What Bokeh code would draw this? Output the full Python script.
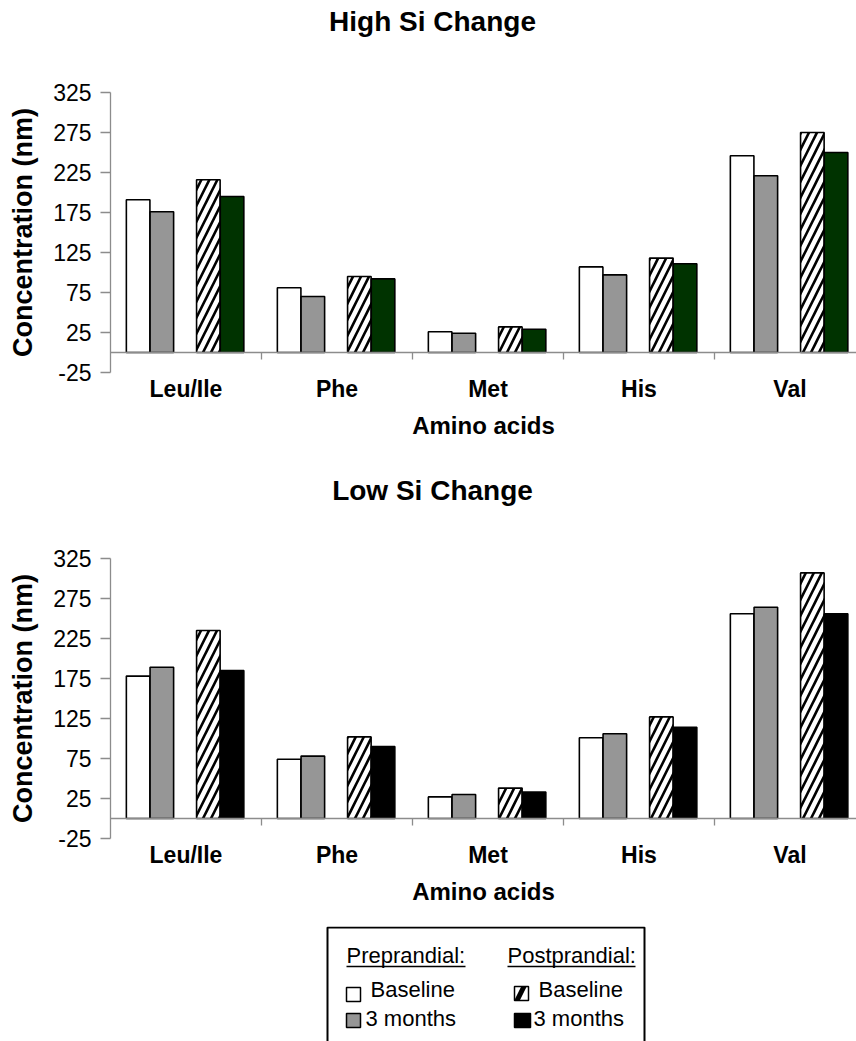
import numpy as np
from bokeh.plotting import figure
from bokeh.models import Range1d, LinearAxis, FixedTicker, Span
from bokeh.layouts import column
from bokeh.embed import file_html
from bokeh.resources import INLINE
from bokeh.core.properties import value

# ---------------- data ----------------
amino_acids = ["Leu/Ile", "Phe", "Met", "His", "Val"]
y_ticks = [-25, 25, 75, 125, 175, 225, 275, 325]
chart_titles = ["High Si Change", "Low Si Change"]

high_pre_baseline = [191, 81, 26, 107, 246]
high_pre_3months = [176, 70, 24, 97, 221]
high_post_baseline = [216, 95, 32, 118, 275]
high_post_3months = [195, 92, 29, 111, 250]

low_pre_baseline = [178, 74, 27, 101, 256]
low_pre_3months = [189, 78, 30, 106, 264]
low_post_baseline = [235, 102, 38, 127, 307]
low_post_3months = [185, 90, 33, 114, 256]

group_labels = ["Preprandial:", "Postprandial:"]
item_labels = ["Baseline", "3 months"]

# ---------------- styling ----------------
FONT = "Liberation Sans"
AXIS_GRAY = "#8c8c8c"
GRAY_FILL = "#969696"
GREEN_FILL = "#003300"
BLACK_FILL = "#000000"
W = 856
LEFT = 110
CAT_PX = 151.0
FRAME_W = W - LEFT
FRAME_H = 280
Y0, Y1 = -25, 325
OFFSETS = [0.183, 0.34, 0.648, 0.805]
BAR_W = 0.156


def blank_fig(height):
    f = figure(width=W, height=height, x_range=Range1d(LEFT, W),
               y_range=Range1d(height, 0), output_backend="svg",
               toolbar_location=None, title=None,
               min_border_left=LEFT, min_border_right=0, min_border_top=0,
               min_border_bottom=0, x_axis_location=None, y_axis_location=None,
               outline_line_color=None)
    f.grid.visible = False
    return f


def title_fig(text, height, center_y):
    f = blank_fig(height)
    f.text(x=[432], y=[center_y], text=[text], text_font=value(FONT),
           text_font_size="28px", text_font_style="bold", text_align="center",
           text_baseline="middle", text_color="black")
    return f


def make_chart(pre_b, pre_3, post_b, post_3, post3_color, height, border_bottom):
    n = len(amino_acids)
    p = figure(width=W, height=height,
               x_range=Range1d(0, FRAME_W / CAT_PX), y_range=Range1d(Y0, Y1),
               output_backend="svg", toolbar_location=None, title=None,
               x_axis_location=None, y_axis_location=None,
               min_border_left=LEFT, min_border_right=0,
               min_border_top=32, min_border_bottom=border_bottom,
               outline_line_color=None, background_fill_color="white",
               border_fill_color="white")
    p.grid.visible = False

    idx = np.arange(n)
    common = dict(width=BAR_W, line_color="black", line_width=1.6)
    p.vbar(x=idx + OFFSETS[0], top=pre_b, bottom=0, fill_color="white", **common)
    p.vbar(x=idx + OFFSETS[1], top=pre_3, bottom=0, fill_color=GRAY_FILL, **common)
    p.vbar(x=idx + OFFSETS[2], top=post_b, bottom=0, fill_color="white",
           hatch_pattern="/", hatch_color="black", hatch_weight=2.6,
           hatch_scale=16, **common)
    p.vbar(x=idx + OFFSETS[3], top=post_3, bottom=0, fill_color=post3_color, **common)

    # y axis
    yax = LinearAxis(ticker=FixedTicker(ticks=y_ticks),
                     major_label_overrides={t: str(t) for t in y_ticks},
                     axis_label="Concentration (nm)",
                     axis_label_text_font=FONT, axis_label_text_font_size="27px",
                     axis_label_text_font_style="bold", axis_label_text_color="black",
                     axis_label_standoff=12,
                     major_label_text_font=FONT, major_label_text_font_size="23px",
                     major_label_text_color="black", major_label_standoff=9,
                     axis_line_color=AXIS_GRAY, axis_line_width=1.3,
                     major_tick_line_color=AXIS_GRAY, major_tick_line_width=1.3,
                     major_tick_out=10, major_tick_in=0,
                     minor_tick_line_color=None)
    p.add_layout(yax, "left")

    # category labels below the frame
    overrides = {i + 0.5: name for i, name in enumerate(amino_acids)}
    xlab = LinearAxis(ticker=FixedTicker(ticks=[i + 0.5 for i in range(n)]),
                      major_label_overrides=overrides,
                      axis_line_color=None, major_tick_line_color=None,
                      minor_tick_line_color=None, major_tick_out=0, major_tick_in=0,
                      major_label_text_font=FONT, major_label_text_font_size="23px",
                      major_label_text_font_style="bold", major_label_text_color="black",
                      major_label_standoff=3,
                      axis_label="Amino acids", axis_label_text_font=FONT,
                      axis_label_text_font_size="24px", axis_label_text_font_style="bold",
                      axis_label_text_color="black", axis_label_standoff=7)
    p.add_layout(xlab, "below")

    # axis line at zero with category separators
    p.add_layout(Span(location=0, dimension="width", line_color=AXIS_GRAY,
                      line_width=1.3))
    tick_len = 7 * (Y1 - Y0) / FRAME_H
    bounds = np.arange(1, n)
    p.segment(x0=bounds, y0=np.zeros(n - 1), x1=bounds, y1=np.full(n - 1, -tick_len),
              line_color=AXIS_GRAY, line_width=1.3)
    return p


t1 = title_fig(chart_titles[0], 60, 21)
p1 = make_chart(high_pre_baseline, high_pre_3months, high_post_baseline,
                high_post_3months, GREEN_FILL, 386, 74)
t2 = title_fig(chart_titles[1], 80, 44)
p2 = make_chart(low_pre_baseline, low_pre_3months, low_post_baseline,
                low_post_3months, BLACK_FILL, 400, 88)

# ---------------- legend panel ----------------
LH = 115
leg = blank_fig(LH)
leg.quad(left=[327], right=[644], top=[1], bottom=[LH + 20],
         fill_color=None, line_color="black", line_width=2)

tf = value(FONT)
leg.text(x=[346, 507], y=[29, 29], text=group_labels, text_font=tf,
         text_font_size="22px", text_baseline="middle", text_color="black")
leg.segment(x0=[346, 507], y0=[40, 40], x1=[465, 635], y1=[40, 40],
            line_color="black", line_width=1.3)

leg.text(x=[370, 365], y=[63, 92], text=item_labels, text_font=tf,
         text_font_size="22px", text_baseline="middle", text_color="black")
leg.text(x=[538, 533], y=[63, 92], text=item_labels, text_font=tf,
         text_font_size="22px", text_baseline="middle", text_color="black")

leg.rect(x=[353, 353], y=[68, 94], width=14, height=14,
         fill_color=["white", GRAY_FILL], line_color="black", line_width=1.5)
leg.rect(x=[521], y=[67], width=14, height=14, fill_color="white",
         hatch_pattern="/", hatch_color="black", hatch_weight=5, hatch_scale=28,
         line_color="black", line_width=1.5)
leg.rect(x=[522], y=[94], width=16, height=14, fill_color=BLACK_FILL,
         line_color="black", line_width=1.5)

layout = column(t1, p1, t2, p2, leg, spacing=0)
open("out.html", "w").write(file_html(layout, INLINE))
